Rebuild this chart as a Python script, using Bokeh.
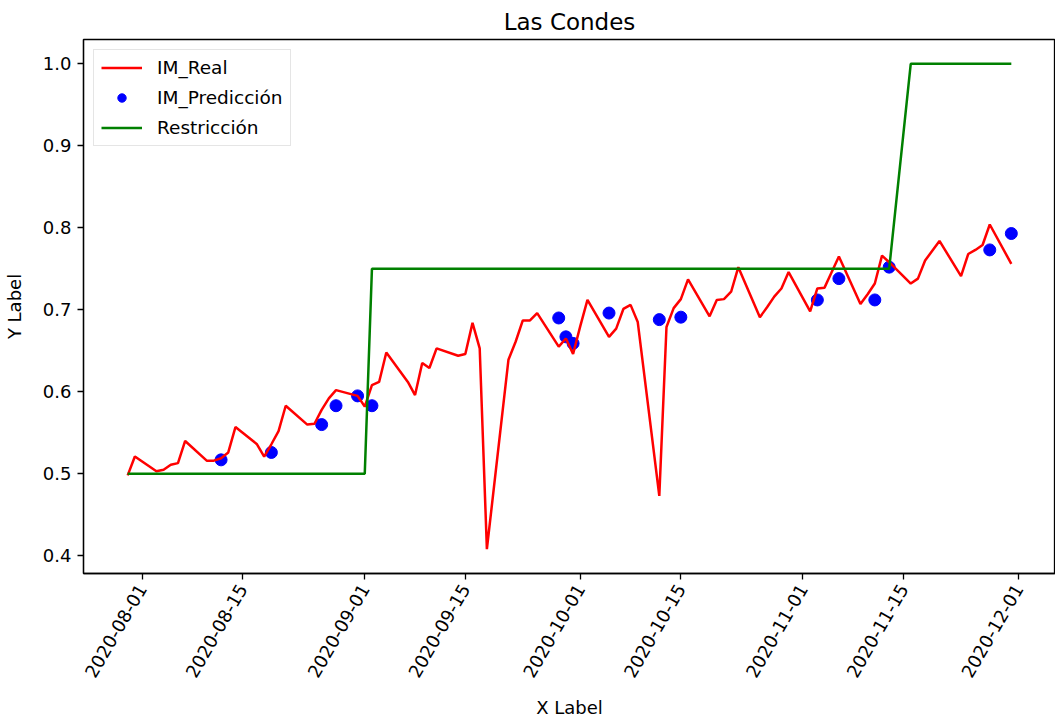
import pandas as pd
from bokeh.plotting import figure
from bokeh.models import (
    ColumnDataSource,
    Range1d,
    FixedTicker,
    DatetimeTickFormatter,
    PrintfTickFormatter,
    Legend,
    LegendItem,
)
from bokeh.embed import file_html
from bokeh.resources import INLINE

FONT = "DejaVu Sans"

# weekday observations only (weekends are skipped in the source data)
dates = pd.bdate_range("2020-07-30", "2020-11-30")

im_real = [
    0.498, 0.521,                        # Jul 30-31
    0.503, 0.505, 0.511, 0.513, 0.540,   # Aug 3-7
    0.516, 0.516, 0.519, 0.526, 0.557,   # Aug 10-14
    0.536, 0.521, 0.536, 0.552, 0.583,   # Aug 17-21
    0.560, 0.561, 0.578, 0.592, 0.602,   # Aug 24-28
    0.595, 0.582, 0.608, 0.612, 0.648,   # Aug 31 - Sep 4
    0.612, 0.596, 0.635, 0.629, 0.653,   # Sep 7-11
    0.644, 0.646, 0.684, 0.653, 0.408,   # Sep 14-18
    0.639, 0.661, 0.687, 0.687, 0.696,   # Sep 21-25
    0.655, 0.665, 0.646, 0.680, 0.712,   # Sep 28 - Oct 2
    0.667, 0.677, 0.701, 0.706, 0.685,   # Oct 5-9
    0.473, 0.679, 0.702, 0.713, 0.737,   # Oct 12-16
    0.692, 0.712, 0.713, 0.722, 0.752,   # Oct 19-23
    0.691, 0.703, 0.716, 0.726, 0.746,   # Oct 26-30
    0.698, 0.726, 0.727, 0.746, 0.765,   # Nov 2-6
    0.707, 0.719, 0.732, 0.766, 0.758,   # Nov 9-13
    0.732, 0.738, 0.760, 0.772, 0.784,   # Nov 16-20
    0.741, 0.768, 0.773, 0.779, 0.804,   # Nov 23-27
    0.756,                               # Nov 30
]

# restriction level: 0.5 until Sep 1, 0.75 until Nov 13, then 1.0
restriccion = [0.5] * 24 + [0.75] * 53 + [1.0] * 11

pred_dates = [
    "2020-08-12", "2020-08-19", "2020-08-26", "2020-08-28", "2020-08-31",
    "2020-09-02", "2020-09-28", "2020-09-29", "2020-09-30", "2020-10-05",
    "2020-10-12", "2020-10-15", "2020-11-03", "2020-11-06", "2020-11-11",
    "2020-11-13", "2020-11-27", "2020-11-30",
]
im_prediccion = [
    0.517, 0.526, 0.560, 0.583, 0.595,
    0.583, 0.690, 0.667, 0.659, 0.696,
    0.688, 0.691, 0.712, 0.738, 0.712,
    0.752, 0.773, 0.793,
]

x_ticks = [
    "2020-08-01", "2020-08-15", "2020-09-01", "2020-09-15", "2020-10-01",
    "2020-10-15", "2020-11-01", "2020-11-15", "2020-12-01",
]
y_ticks = [0.4, 0.5, 0.6, 0.7, 0.8, 0.9, 1.0]

real_src = ColumnDataSource(dict(date=dates, real=im_real, restr=restriccion))
pred_src = ColumnDataSource(dict(date=pd.to_datetime(pred_dates), pred=im_prediccion))

# matplotlib-like 5% margins around the data
span = dates[-1] - dates[0]
x_range = Range1d(dates[0] - span * 0.05, dates[-1] + span * 0.05)
lo = min(im_real + im_prediccion + restriccion)
hi = max(im_real + im_prediccion + restriccion)
pad = (hi - lo) * 0.05
y_range = Range1d(lo - pad, hi + pad)

p = figure(
    width=1055,
    height=720,
    x_axis_type="datetime",
    x_range=x_range,
    y_range=y_range,
    title="Las Condes",
    toolbar_location=None,
    tools="",
    output_backend="svg",
    min_border_left=83,
    min_border_right=0,
    min_border_top=39,
    min_border_bottom=140,
)

r_pred = p.scatter(source=pred_src, x="date", y="pred", size=12,
                   fill_color="blue", line_color="blue")
r_real = p.line(source=real_src, x="date", y="real", line_color="red", line_width=2.5)
r_restr = p.line(source=real_src, x="date", y="restr", line_color="green", line_width=2.5)

legend = Legend(
    items=[
        LegendItem(label="IM_Real", renderers=[r_real]),
        LegendItem(label="IM_Predicción", renderers=[r_pred]),
        LegendItem(label="Restricción", renderers=[r_restr]),
    ],
    location="top_left",
    label_text_font=FONT,
    label_text_font_size="18.5px",
    label_text_color="black",
    label_height=21,
    glyph_height=21,
    glyph_width=41,
    label_standoff=15,
    spacing=9,
    padding=7,
    margin=10,
    border_line_color="#cccccc",
    border_line_width=1,
    background_fill_alpha=0.8,
)
p.add_layout(legend)

p.title.align = "center"
p.title.text_font = FONT
p.title.text_font_size = "23px"
p.title.text_font_style = "normal"
p.title.text_color = "black"
p.title.standoff = 10

p.xgrid.visible = False
p.ygrid.visible = False
p.outline_line_color = "black"
p.outline_line_width = 1.3
p.outline_line_alpha = 1.0

p.xaxis.ticker = FixedTicker(ticks=[pd.Timestamp(t).timestamp() * 1000 for t in x_ticks])
p.xaxis.formatter = DatetimeTickFormatter(
    days="%Y-%m-%d", months="%Y-%m-%d", years="%Y-%m-%d"
)
p.xaxis.major_label_orientation = 1.0472
p.xaxis.axis_label = "X Label"

p.yaxis.ticker = FixedTicker(ticks=y_ticks)
p.yaxis.formatter = PrintfTickFormatter(format="%.1f")
p.yaxis.axis_label = "Y Label"

for ax in (p.xaxis, p.yaxis):
    ax.axis_line_color = "black"
    ax.axis_line_width = 1.3
    ax.major_tick_line_color = "black"
    ax.major_tick_line_width = 1.3
    ax.major_tick_out = 6
    ax.major_tick_in = 0
    ax.minor_tick_out = 0
    ax.minor_tick_in = 0
    ax.major_label_standoff = 6
    ax.major_label_text_font = FONT
    ax.major_label_text_font_size = "18px"
    ax.major_label_text_color = "black"
    ax.axis_label_text_font = FONT
    ax.axis_label_text_font_size = "18px"
    ax.axis_label_text_font_style = "normal"
    ax.axis_label_text_color = "black"
p.xaxis.axis_label_standoff = 11
p.yaxis.axis_label_standoff = 15

open("out.html", "w").write(file_html(p, INLINE))
